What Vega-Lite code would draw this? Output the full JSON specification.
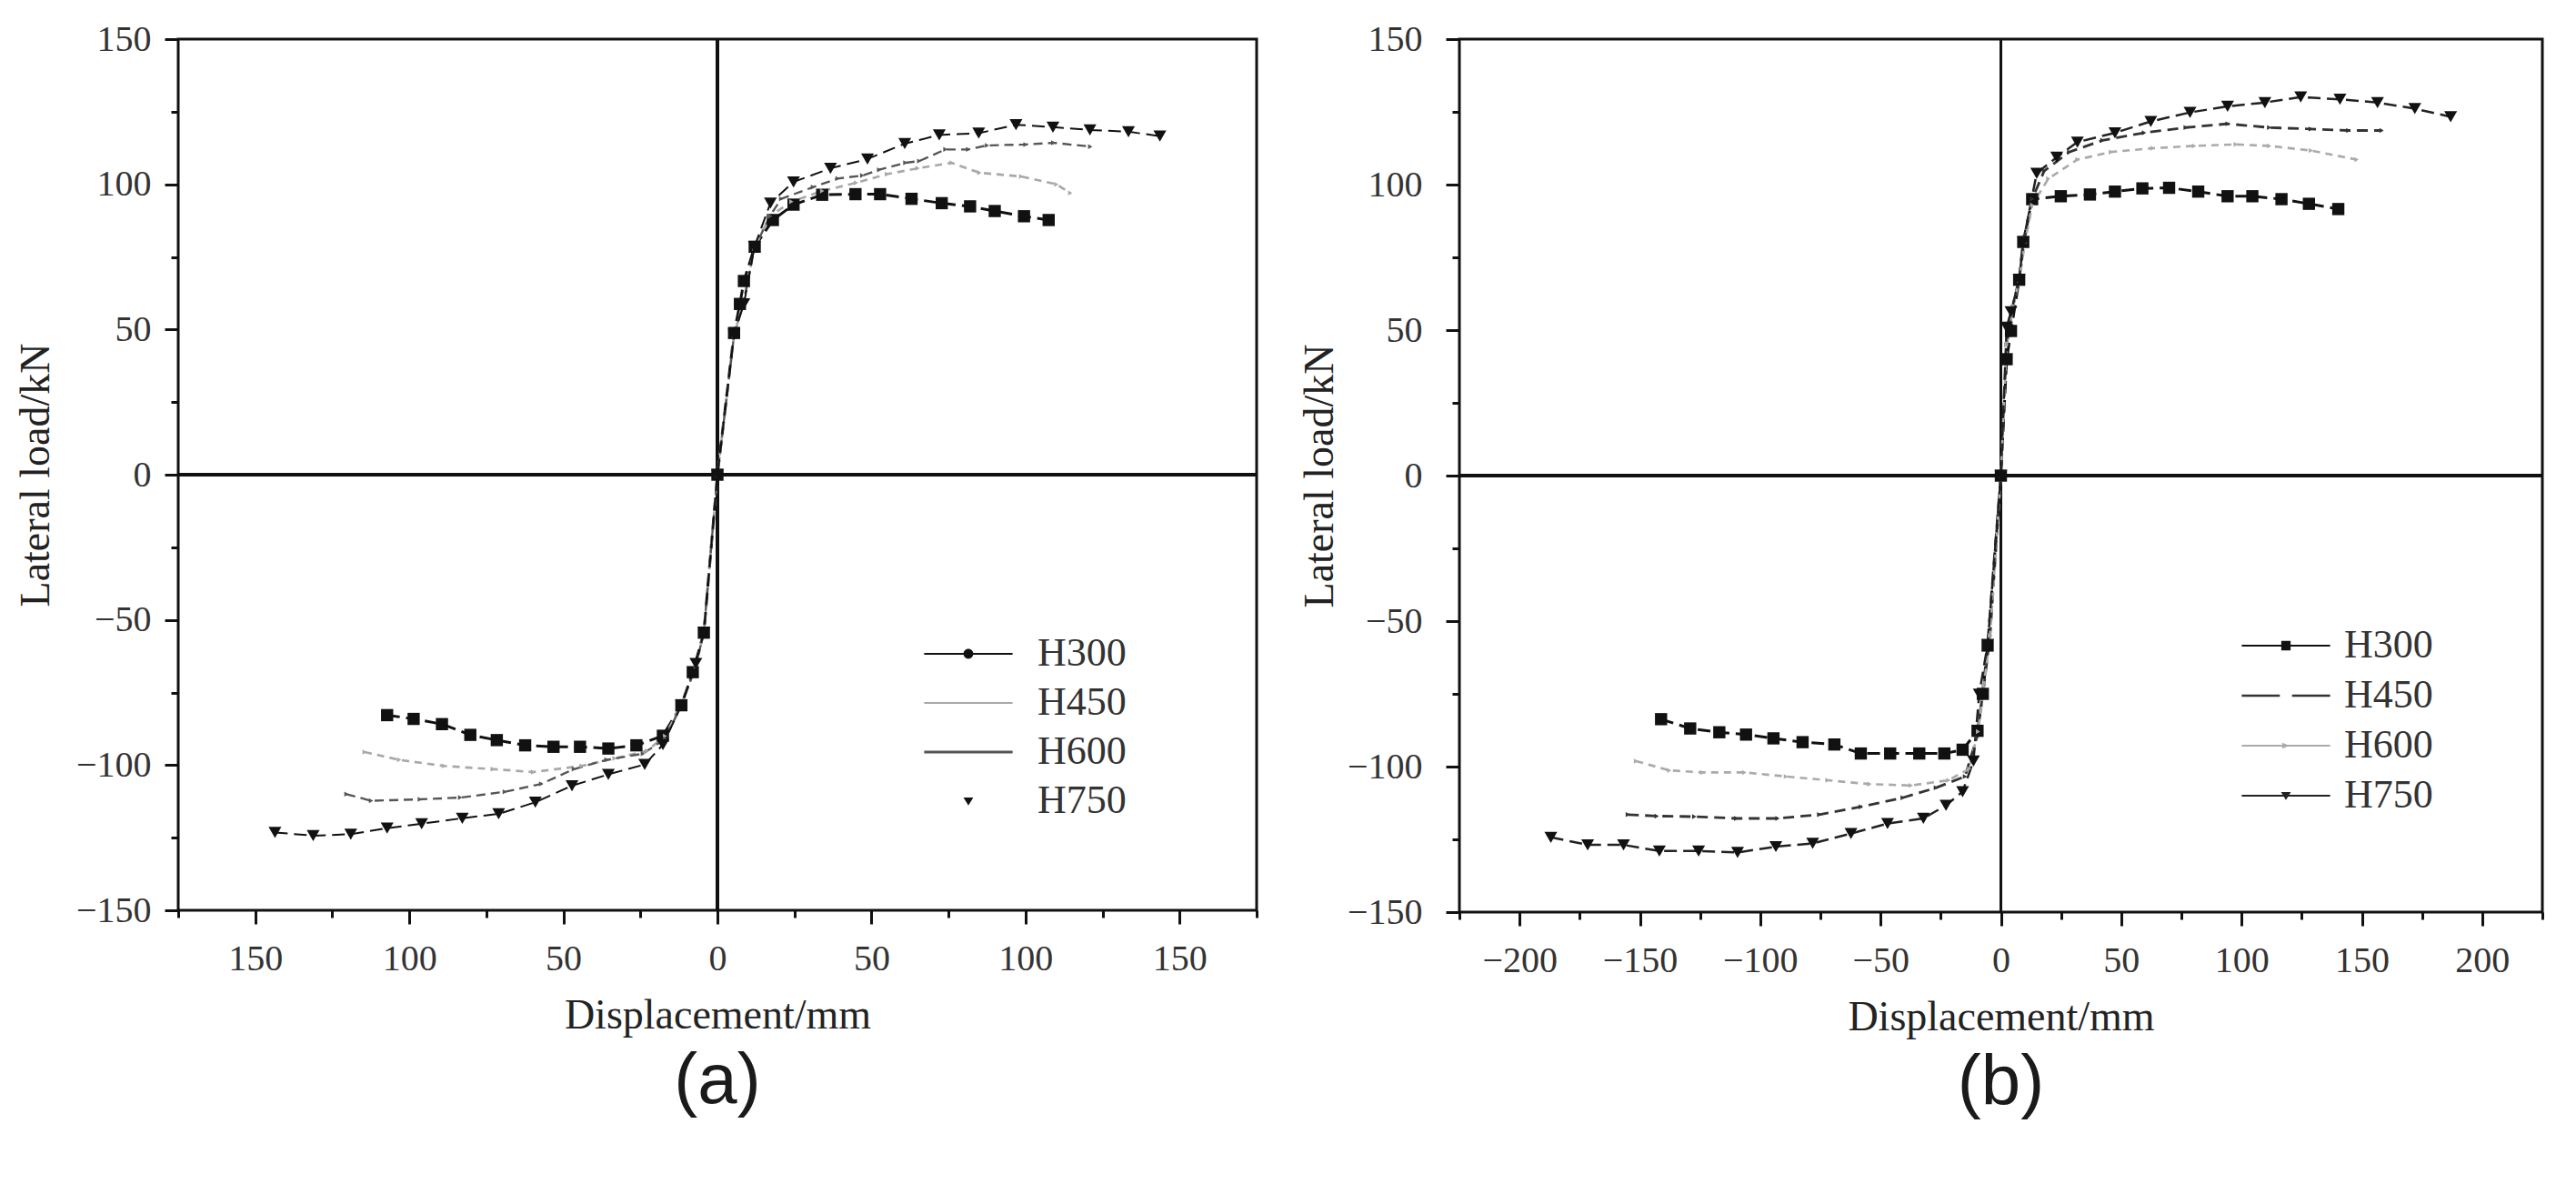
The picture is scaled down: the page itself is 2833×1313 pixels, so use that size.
{
"$schema": "https://vega.github.io/schema/vega-lite/v6.json",
"background": "white",
"padding": {"left": 14, "top": 21, "right": 5, "bottom": 5},
"config": {
  "view": {"stroke": "#111", "strokeWidth": 3},
  "axis": {"labelFont": "Liberation Serif", "titleFont": "Liberation Serif", "labelFontSize": 40, "titleFontSize": 46, "labelColor": "#333", "titleColor": "#222", "titleFontWeight": "normal", "tickColor": "#111", "tickWidth": 3, "tickSize": 15, "domain": false, "grid": false},
  "line": {"strokeCap": "butt"}
},
"datasets": {
"a": [
{"series":"H300","x":-107.2,"y":-82.8},{"series":"H300","x":-98.6,"y":-84.1},{"series":"H300","x":-89.4,"y":-85.9},{"series":"H300","x":-80.2,"y":-89.6},{"series":"H300","x":-71.6,"y":-91.4},{"series":"H300","x":-62.4,"y":-93.2},{"series":"H300","x":-53.2,"y":-93.7},{"series":"H300","x":-44.6,"y":-93.7},{"series":"H300","x":-35.4,"y":-94.3},{"series":"H300","x":-26.3,"y":-93.2},{"series":"H300","x":-17.7,"y":-89.9},{"series":"H300","x":-11.7,"y":-79.4},{"series":"H300","x":-8,"y":-68},{"series":"H300","x":-4.4,"y":-54.4},{"series":"H300","x":0,"y":0},{"series":"H300","x":5.4,"y":48.8},{"series":"H300","x":7.3,"y":58.8},{"series":"H300","x":8.6,"y":66.7},{"series":"H300","x":12.1,"y":78.5},{"series":"H300","x":18,"y":87.7},{"series":"H300","x":24.7,"y":93},{"series":"H300","x":34,"y":96.4},{"series":"H300","x":44.8,"y":96.6},{"series":"H300","x":52.8,"y":96.6},{"series":"H300","x":63,"y":95},{"series":"H300","x":72.8,"y":93.5},{"series":"H300","x":82,"y":92.4},{"series":"H300","x":90,"y":90.8},{"series":"H300","x":99.5,"y":89},{"series":"H300","x":107.5,"y":87.7},
{"series":"H450","x":-114.5,"y":-95.5},{"series":"H450","x":-103.3,"y":-98.2},{"series":"H450","x":-88.8,"y":-100.3},{"series":"H450","x":-72.9,"y":-101.4},{"series":"H450","x":-59.8,"y":-102.4},{"series":"H450","x":-44,"y":-100.3},{"series":"H450","x":-33.4,"y":-97.7},{"series":"H450","x":-22.9,"y":-95.1},{"series":"H450","x":-17,"y":-90},{"series":"H450","x":-11.7,"y":-79},{"series":"H450","x":-7,"y":-66},{"series":"H450","x":-4.4,"y":-54},{"series":"H450","x":0,"y":0},{"series":"H450","x":5.4,"y":48},{"series":"H450","x":8.6,"y":60},{"series":"H450","x":12,"y":78},{"series":"H450","x":17,"y":89},{"series":"H450","x":24,"y":94},{"series":"H450","x":34,"y":97.7},{"series":"H450","x":45,"y":100.5},{"series":"H450","x":55,"y":103.5},{"series":"H450","x":65,"y":105.5},{"series":"H450","x":76,"y":107.4},{"series":"H450","x":85,"y":104},{"series":"H450","x":98.6,"y":102.7},{"series":"H450","x":110,"y":100},{"series":"H450","x":114.5,"y":97},
{"series":"H600","x":-120.4,"y":-110},{"series":"H600","x":-112.4,"y":-112.3},{"series":"H600","x":-96.6,"y":-111.8},{"series":"H600","x":-83.5,"y":-111.2},{"series":"H600","x":-69,"y":-109.2},{"series":"H600","x":-57.2,"y":-106.5},{"series":"H600","x":-46.6,"y":-101.4},{"series":"H600","x":-36,"y":-98.2},{"series":"H600","x":-24.2,"y":-96.1},{"series":"H600","x":-17,"y":-91},{"series":"H600","x":-11.7,"y":-79.4},{"series":"H600","x":-7,"y":-66},{"series":"H600","x":-4.4,"y":-54},{"series":"H600","x":0,"y":0},{"series":"H600","x":5.4,"y":48},{"series":"H600","x":8.6,"y":60},{"series":"H600","x":12,"y":78},{"series":"H600","x":17,"y":89},{"series":"H600","x":20.7,"y":95},{"series":"H600","x":31,"y":99},{"series":"H600","x":39,"y":102},{"series":"H600","x":47,"y":103},{"series":"H600","x":52.5,"y":105},{"series":"H600","x":61,"y":107.4},{"series":"H600","x":65.5,"y":108},{"series":"H600","x":74,"y":112},{"series":"H600","x":81.4,"y":112},{"series":"H600","x":87.5,"y":113.4},{"series":"H600","x":100,"y":113.7},{"series":"H600","x":109,"y":114.3},{"series":"H600","x":121,"y":113},
{"series":"H750","x":-143.6,"y":-123.2},{"series":"H750","x":-131.2,"y":-124.3},{"series":"H750","x":-119,"y":-123.8},{"series":"H750","x":-107.2,"y":-121.7},{"series":"H750","x":-96,"y":-120.2},{"series":"H750","x":-82.8,"y":-118.3},{"series":"H750","x":-71,"y":-116.8},{"series":"H750","x":-59.1,"y":-112.8},{"series":"H750","x":-47.2,"y":-107.1},{"series":"H750","x":-35.4,"y":-103.2},{"series":"H750","x":-23.6,"y":-99.8},{"series":"H750","x":-17.7,"y":-93},{"series":"H750","x":-11.7,"y":-79.4},{"series":"H750","x":-7,"y":-65},{"series":"H750","x":-4.4,"y":-54.4},{"series":"H750","x":0,"y":0},{"series":"H750","x":5.4,"y":48.3},{"series":"H750","x":8.6,"y":58.8},{"series":"H750","x":12,"y":78.5},{"series":"H750","x":17.2,"y":93.5},{"series":"H750","x":24.7,"y":100.8},{"series":"H750","x":36.7,"y":105.5},{"series":"H750","x":48.7,"y":108.7},{"series":"H750","x":60.8,"y":114},{"series":"H750","x":72,"y":117},{"series":"H750","x":84.8,"y":117.6},{"series":"H750","x":96.9,"y":120.5},{"series":"H750","x":108.9,"y":119.7},{"series":"H750","x":120.9,"y":118.7},{"series":"H750","x":133.4,"y":118.1},{"series":"H750","x":143.6,"y":116.6}
],
"b": [
{"series":"H300","x":-141.2,"y":-83.7},{"series":"H300","x":-129.1,"y":-86.9},{"series":"H300","x":-117,"y":-88.2},{"series":"H300","x":-105.9,"y":-89},{"series":"H300","x":-94.5,"y":-90.3},{"series":"H300","x":-82.4,"y":-91.6},{"series":"H300","x":-69.2,"y":-92.4},{"series":"H300","x":-58.2,"y":-95.5},{"series":"H300","x":-46,"y":-95.5},{"series":"H300","x":-33.9,"y":-95.5},{"series":"H300","x":-23.5,"y":-95.5},{"series":"H300","x":-15.9,"y":-94.2},{"series":"H300","x":-9.7,"y":-87.7},{"series":"H300","x":-7.5,"y":-75},{"series":"H300","x":-5.5,"y":-58.4},{"series":"H300","x":0,"y":0},{"series":"H300","x":2.4,"y":40},{"series":"H300","x":4.2,"y":49.7},{"series":"H300","x":7.6,"y":67.3},{"series":"H300","x":9.3,"y":80.3},{"series":"H300","x":13,"y":95},{"series":"H300","x":24.9,"y":96},{"series":"H300","x":37,"y":96.6},{"series":"H300","x":47.4,"y":97.6},{"series":"H300","x":58.8,"y":98.7},{"series":"H300","x":69.9,"y":98.9},{"series":"H300","x":82,"y":97.6},{"series":"H300","x":94.2,"y":96},{"series":"H300","x":104.5,"y":96},{"series":"H300","x":116.6,"y":95},{"series":"H300","x":128,"y":93.4},{"series":"H300","x":140.2,"y":91.6},
{"series":"H450","x":-155,"y":-116.5},{"series":"H450","x":-143,"y":-117},{"series":"H450","x":-127.4,"y":-117.2},{"series":"H450","x":-110,"y":-117.8},{"series":"H450","x":-92.8,"y":-117.8},{"series":"H450","x":-75.5,"y":-116.5},{"series":"H450","x":-58.2,"y":-113.8},{"series":"H450","x":-40.8,"y":-110.7},{"series":"H450","x":-27,"y":-107.3},{"series":"H450","x":-14.9,"y":-103.4},{"series":"H450","x":-10,"y":-90},{"series":"H450","x":-7,"y":-72},{"series":"H450","x":-4.5,"y":-55},{"series":"H450","x":0,"y":0},{"series":"H450","x":2.4,"y":45},{"series":"H450","x":5,"y":58},{"series":"H450","x":7.6,"y":68},{"series":"H450","x":10,"y":82},{"series":"H450","x":13,"y":95},{"series":"H450","x":18,"y":104.7},{"series":"H450","x":28.4,"y":111.2},{"series":"H450","x":42.2,"y":115.2},{"series":"H450","x":59.5,"y":117.8},{"series":"H450","x":76.8,"y":119.6},{"series":"H450","x":94.2,"y":120.9},{"series":"H450","x":111.5,"y":119.6},{"series":"H450","x":128.8,"y":119.1},{"series":"H450","x":144.4,"y":118.6},{"series":"H450","x":158.2,"y":118.6},
{"series":"H600","x":-151.6,"y":-98.1},{"series":"H600","x":-137.8,"y":-101.3},{"series":"H600","x":-124,"y":-102},{"series":"H600","x":-106.6,"y":-102},{"series":"H600","x":-89.3,"y":-103.4},{"series":"H600","x":-72,"y":-104.7},{"series":"H600","x":-54.7,"y":-106},{"series":"H600","x":-37.4,"y":-106.5},{"series":"H600","x":-21.8,"y":-104.7},{"series":"H600","x":-13.2,"y":-100.8},{"series":"H600","x":-9.5,"y":-88},{"series":"H600","x":-7,"y":-72},{"series":"H600","x":-4.5,"y":-55},{"series":"H600","x":0,"y":0},{"series":"H600","x":2.4,"y":45},{"series":"H600","x":5,"y":58},{"series":"H600","x":7.6,"y":67},{"series":"H600","x":10,"y":80},{"series":"H600","x":13,"y":93},{"series":"H600","x":19.7,"y":102},{"series":"H600","x":31.8,"y":108.6},{"series":"H600","x":45.7,"y":111.2},{"series":"H600","x":63,"y":112.5},{"series":"H600","x":80.3,"y":113.3},{"series":"H600","x":97.6,"y":113.8},{"series":"H600","x":111.5,"y":113.3},{"series":"H600","x":128.8,"y":111.7},{"series":"H600","x":147.8,"y":108.6},
{"series":"H750","x":-187,"y":-124.3},{"series":"H750","x":-171.7,"y":-126.9},{"series":"H750","x":-156.8,"y":-126.9},{"series":"H750","x":-141.9,"y":-129},{"series":"H750","x":-125.6,"y":-129},{"series":"H750","x":-109.4,"y":-129.5},{"series":"H750","x":-93.5,"y":-127.5},{"series":"H750","x":-78.2,"y":-126.4},{"series":"H750","x":-62.3,"y":-123},{"series":"H750","x":-47.1,"y":-119.6},{"series":"H750","x":-32.2,"y":-117.8},{"series":"H750","x":-22.8,"y":-113.3},{"series":"H750","x":-15.9,"y":-108.6},{"series":"H750","x":-11.4,"y":-98.1},{"series":"H750","x":-9,"y":-75.1},{"series":"H750","x":-5.5,"y":-58},{"series":"H750","x":0,"y":0},{"series":"H750","x":2.4,"y":51},{"series":"H750","x":4.2,"y":56.3},{"series":"H750","x":7.6,"y":67.3},{"series":"H750","x":9.3,"y":80.3},{"series":"H750","x":14.9,"y":103.9},{"series":"H750","x":23.2,"y":109.4},{"series":"H750","x":31.8,"y":114.6},{"series":"H750","x":47.4,"y":117.8},{"series":"H750","x":62.3,"y":121.7},{"series":"H750","x":78.6,"y":124.8},{"series":"H750","x":94.2,"y":126.9},{"series":"H750","x":109.7,"y":128.2},{"series":"H750","x":124.6,"y":130.1},{"series":"H750","x":140.9,"y":129.3},{"series":"H750","x":156.5,"y":128.2},{"series":"H750","x":172,"y":126.1},{"series":"H750","x":186.9,"y":123.3}
]
},
"spacing": 41,
"resolve": {"scale": {"x": "independent", "y": "independent", "color": "independent", "shape": "independent", "strokeDash": "independent", "strokeWidth": "independent"}, "legend": {"color": "independent", "shape": "independent"}},
"hconcat": [
{
 "width": 1186, "height": 958,
 "data": {"name": "a"},
 "title": {"text": "(a)", "orient": "bottom", "font": "Liberation Sans", "fontSize": 78, "fontWeight": "normal", "color": "#1a1a1a", "offset": 12},
 "layer": [
  {"transform": [{"filter": "datum.y > 9999"}], "mark": {"type": "point", "filled": true, "opacity": 1}, "encoding": {
    "x": {"field": "x", "type": "quantitative", "axis": {"orient": "bottom", "values": [-175, -125, -75, -25, 25, 75, 125, 175], "labels": false, "title": null, "tickSize": 8}},
    "y": {"field": "y", "type": "quantitative", "axis": {"orient": "left", "values": [-125, -75, -25, 25, 75, 125], "labels": false, "title": null, "tickSize": 8}},
    "color": {"field": "series", "type": "nominal", "scale": {"domain": ["H300", "H450", "H600", "H750"], "range": ["#111111", "#a8a8a8", "#555555", "#111111"]}, "legend": {"orient": "none", "legendX": 842, "legendY": 649, "title": null, "symbolSize": 2916, "labelFont": "Liberation Serif", "labelFontSize": 44, "labelColor": "#333", "labelOffset": 49, "rowPadding": 5, "padding": 0, "symbolStrokeWidth": 0}},
    "shape": {"field": "series", "type": "nominal", "scale": {"domain": ["H300", "H450", "H600", "H750"], "range": ["M-1.8,-0.04H1.8V0.04H-1.8Z M-0.2,0A0.2,0.2,0,1,1,0.2,0A0.2,0.2,0,1,1,-0.2,0Z", "M-1.8,-0.04H1.8V0.04H-1.8Z", "M-1.8,-0.06H1.8V0.06H-1.8Z", "M-0.2,-0.15H0.2L0,0.18Z"]}, "legend": {"orient": "none", "legendX": 842, "legendY": 649, "title": null, "symbolSize": 2916, "labelFont": "Liberation Serif", "labelFontSize": 44, "labelColor": "#333", "labelOffset": 49, "rowPadding": 5, "padding": 0, "symbolStrokeWidth": 0}}
  }},
  {"mark": {"type": "rule", "color": "#111", "strokeWidth": 2.5}, "encoding": {"x": {"datum": 0, "type": "quantitative", "axis": null}}},
  {"mark": {"type": "rule", "color": "#111", "strokeWidth": 2.5}, "encoding": {"y": {"datum": 0, "type": "quantitative", "axis": null}}},
  {"mark": {"type": "line"}, "encoding": {
    "x": {"field": "x", "type": "quantitative", "scale": {"domain": [-175, 175], "nice": false, "zero": false}, "axis": {"orient": "bottom", "values": [-150, -100, -50, 0, 50, 100, 150], "title": "Displacement/mm", "labelExpr": "format(abs(datum.value), 'd')", "labelPadding": 18, "titlePadding": 20}},
    "y": {"field": "y", "type": "quantitative", "scale": {"domain": [-150, 150], "nice": false, "zero": false}, "axis": {"orient": "left", "values": [-150, -100, -50, 0, 50, 100, 150], "title": "Lateral load/kN", "labelPadding": 15, "titlePadding": 20}},
    "color": {"field": "series", "type": "nominal"},
    "strokeDash": {"field": "series", "type": "nominal", "scale": {"range": [[14, 7], [8, 6], [10, 6], [14, 7]]}, "legend": null},
    "strokeWidth": {"field": "series", "type": "nominal", "scale": {"range": [3, 2, 2.5, 3]}, "legend": null}
  }},
  {"transform": [{"filter": "datum.series === 'H300'"}], "mark": {"type": "point", "shape": "square", "filled": true, "size": 180, "color": "#111", "opacity": 1}, "encoding": {"x": {"field": "x", "type": "quantitative", "axis": null}, "y": {"field": "y", "type": "quantitative", "axis": null}}},
  {"transform": [{"filter": "datum.series === 'H450'"}], "mark": {"type": "point", "shape": "triangle-right", "filled": true, "size": 30, "color": "#a8a8a8", "opacity": 1}, "encoding": {"x": {"field": "x", "type": "quantitative", "axis": null}, "y": {"field": "y", "type": "quantitative", "axis": null}}},
  {"transform": [{"filter": "datum.series === 'H600'"}], "mark": {"type": "point", "shape": "triangle-right", "filled": true, "size": 30, "color": "#555", "opacity": 1}, "encoding": {"x": {"field": "x", "type": "quantitative", "axis": null}, "y": {"field": "y", "type": "quantitative", "axis": null}}},
  {"transform": [{"filter": "datum.series === 'H750'"}], "mark": {"type": "point", "shape": "triangle-down", "filled": true, "size": 200, "color": "#111", "opacity": 1}, "encoding": {"x": {"field": "x", "type": "quantitative", "axis": null}, "y": {"field": "y", "type": "quantitative", "axis": null}}}
 ],
 "resolve": {"axis": {"x": "independent", "y": "independent"}}
},
{
 "width": 1191, "height": 960,
 "data": {"name": "b"},
 "title": {"text": "(b)", "orient": "bottom", "font": "Liberation Sans", "fontSize": 78, "fontWeight": "normal", "color": "#1a1a1a", "offset": 12},
 "layer": [
  {"transform": [{"filter": "datum.y > 9999"}], "mark": {"type": "point", "filled": true, "opacity": 1}, "encoding": {
    "x": {"field": "x", "type": "quantitative", "axis": {"orient": "bottom", "values": [-225, -175, -125, -75, -25, 25, 75, 125, 175, 225], "labels": false, "title": null, "tickSize": 8}},
    "y": {"field": "y", "type": "quantitative", "axis": {"orient": "left", "values": [-125, -75, -25, 25, 75, 125], "labels": false, "title": null, "tickSize": 8}},
    "color": {"field": "series", "type": "nominal", "scale": {"domain": ["H300", "H450", "H600", "H750"], "range": ["#111111", "#333333", "#aaaaaa", "#222222"]}, "legend": {"orient": "none", "legendX": 882, "legendY": 640, "title": null, "symbolSize": 2916, "labelFont": "Liberation Serif", "labelFontSize": 44, "labelColor": "#333", "labelOffset": 37, "rowPadding": 6, "padding": 0, "symbolStrokeWidth": 0}},
    "shape": {"field": "series", "type": "nominal", "scale": {"domain": ["H300", "H450", "H600", "H750"], "range": ["M-1.8,-0.04H1.8V0.04H-1.8Z M-0.19,-0.19H0.19V0.19H-0.19Z", "M-1.8,-0.05H-0.25V0.05H-1.8Z M0.25,-0.05H1.8V0.05H0.25Z", "M-1.8,-0.04H1.8V0.04H-1.8Z M-0.15,-0.12L0.15,0L-0.15,0.12Z", "M-1.8,-0.04H1.8V0.04H-1.8Z M-0.2,-0.15H0.2L0,0.18Z"]}, "legend": {"orient": "none", "legendX": 882, "legendY": 640, "title": null, "symbolSize": 2916, "labelFont": "Liberation Serif", "labelFontSize": 44, "labelColor": "#333", "labelOffset": 37, "rowPadding": 6, "padding": 0, "symbolStrokeWidth": 0}}
  }},
  {"mark": {"type": "rule", "color": "#111", "strokeWidth": 2.5}, "encoding": {"x": {"datum": 0, "type": "quantitative", "axis": null}}},
  {"mark": {"type": "rule", "color": "#111", "strokeWidth": 2.5}, "encoding": {"y": {"datum": 0, "type": "quantitative", "axis": null}}},
  {"mark": {"type": "line"}, "encoding": {
    "x": {"field": "x", "type": "quantitative", "scale": {"domain": [-225, 225], "nice": false, "zero": false}, "axis": {"orient": "bottom", "values": [-200, -150, -100, -50, 0, 50, 100, 150, 200], "title": "Displacement/mm", "labelPadding": 18, "titlePadding": 20}},
    "y": {"field": "y", "type": "quantitative", "scale": {"domain": [-150, 150], "nice": false, "zero": false}, "axis": {"orient": "left", "values": [-150, -100, -50, 0, 50, 100, 150], "title": "Lateral load/kN", "labelPadding": 26, "titlePadding": 6}},
    "color": {"field": "series", "type": "nominal"},
    "strokeDash": {"field": "series", "type": "nominal", "scale": {"range": [[14, 7], [12, 7], [8, 6], [14, 7]]}, "legend": null},
    "strokeWidth": {"field": "series", "type": "nominal", "scale": {"range": [3, 2.5, 2, 3]}, "legend": null}
  }},
  {"transform": [{"filter": "datum.series === 'H300'"}], "mark": {"type": "point", "shape": "square", "filled": true, "size": 180, "color": "#111", "opacity": 1}, "encoding": {"x": {"field": "x", "type": "quantitative", "axis": null}, "y": {"field": "y", "type": "quantitative", "axis": null}}},
  {"transform": [{"filter": "datum.series === 'H450'"}], "mark": {"type": "point", "shape": "triangle-right", "filled": true, "size": 30, "color": "#333", "opacity": 1}, "encoding": {"x": {"field": "x", "type": "quantitative", "axis": null}, "y": {"field": "y", "type": "quantitative", "axis": null}}},
  {"transform": [{"filter": "datum.series === 'H600'"}], "mark": {"type": "point", "shape": "triangle-right", "filled": true, "size": 30, "color": "#aaa", "opacity": 1}, "encoding": {"x": {"field": "x", "type": "quantitative", "axis": null}, "y": {"field": "y", "type": "quantitative", "axis": null}}},
  {"transform": [{"filter": "datum.series === 'H750'"}], "mark": {"type": "point", "shape": "triangle-down", "filled": true, "size": 200, "color": "#111", "opacity": 1}, "encoding": {"x": {"field": "x", "type": "quantitative", "axis": null}, "y": {"field": "y", "type": "quantitative", "axis": null}}}
 ],
 "resolve": {"axis": {"x": "independent", "y": "independent"}}
}
]
}
